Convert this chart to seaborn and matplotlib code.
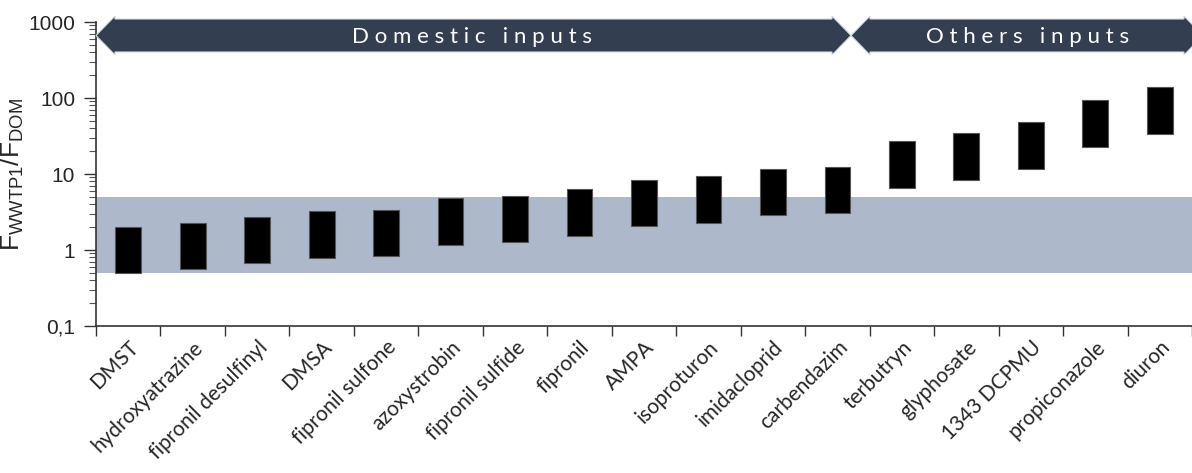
import numpy as np
import pandas as pd
import matplotlib
matplotlib.use("Agg")
import matplotlib.pyplot as plt
import seaborn as sns
from matplotlib.patches import Polygon
import matplotlib.ticker as ticker

# compounds, ordered as in the figure
compounds = ["DMST", "hydroxyatrazine", "fipronil desulfinyl", "DMSA", "fipronil sulfone",
             "azoxystrobin", "fipronil sulfide", "fipronil", "AMPA", "isoproturon",
             "imidacloprid", "carbendazim", "terbutryn", "glyphosate", "1343 DCPMU",
             "propiconazole", "diuron"]
# low / high of each F_WWTP1/F_DOM range
low = [0.50, 0.56, 0.67, 0.79, 0.83, 1.17, 1.26, 1.53, 2.05, 2.29, 2.92, 3.10,
       6.6, 8.4, 11.5, 22.6, 33.6]
high = [2.03, 2.27, 2.74, 3.23, 3.39, 4.79, 5.19, 6.29, 8.41, 9.33, 11.7, 12.5,
        27.2, 34.3, 47.9, 93.3, 138]
band = (0.5, 5)
yticks = [0.1, 1, 10, 100, 1000]
yticklabels = ["0,1", "1", "10", "100", "1000"]

df = pd.DataFrame({"compound": compounds, "low": low, "high": high})
df["span"] = df["high"] - df["low"]

sns.set_style("ticks")
plt.rcParams["font.family"] = ["Lato", "DejaVu Sans"]

W, H = 1192, 473
fig = plt.figure(figsize=(W / 100, H / 100), dpi=100)
ax = fig.add_axes([96 / W, (H - 326) / H, 1 - 96 / W, (326 - 22) / H])

ax.set_yscale("log")
ax.axhspan(*band, color="#ADB9CA", zorder=0, lw=0)

sns.barplot(data=df, x="compound", y="span", order=compounds, bottom=df["low"].values,
            color="black", saturation=1, width=0.4, edgecolor="#555555", linewidth=0.8,
            ax=ax, zorder=2)

ax.set_ylim(0.1, 1000)
ax.set_xlim(-0.5, -0.5 + (W - 96) / 65)
ax.set_yticks(yticks)
ax.set_yticklabels(yticklabels, family=["Liberation Sans"], fontsize=15)
ax.yaxis.set_minor_locator(ticker.LogLocator(base=10, subs=np.arange(2, 10)))
ax.yaxis.set_minor_formatter(ticker.NullFormatter())
ax.tick_params(axis="y", which="major", length=9, width=1, color="#333333", pad=6)
ax.tick_params(axis="y", which="minor", length=5, width=0.8, color="#555555")

# category boundary ticks on x
ax.set_xticks(np.arange(len(compounds)))
ax.set_xticklabels(compounds, rotation=45, ha="right", rotation_mode="anchor",
                   fontsize=15)
ax.tick_params(axis="x", which="major", length=0, pad=8)
ax.set_xticks(np.arange(len(compounds) + 1) - 0.5, minor=True)
ax.tick_params(axis="x", which="minor", length=7, width=1, color="#333333")

ax.set_xlabel("")
ax.set_ylabel(r"$\mathregular{F_{WWTP1}/F_{DOM}}$", fontsize=19, family=["Liberation Sans"],
              labelpad=2)
for s in ["top", "right"]:
    ax.spines[s].set_visible(False)
for s in ["left", "bottom"]:
    ax.spines[s].set_color("#333333")
    ax.spines[s].set_linewidth(1.2)


def px(x, y):
    return (x / W, 1 - y / H)


def double_arrow(x0, x1, yc, body=16.5, head=19.5, hl=19):
    pts = [(x0, yc), (x0 + hl, yc - head), (x0 + hl, yc - body), (x1 - hl, yc - body),
           (x1 - hl, yc - head), (x1, yc), (x1 - hl, yc + head), (x1 - hl, yc + body),
           (x0 + hl, yc + body), (x0 + hl, yc + head)]
    fig.patches.append(Polygon([px(*p) for p in pts], closed=True, transform=fig.transFigure,
                               facecolor="#333F50", edgecolor="#D6DCE5", lw=0.8))


double_arrow(96, 851, 35.5)
double_arrow(851, 1203, 35.5)
fig.text(*px(472, 37), "D o m e s t i c   i n p u t s", color="white", fontsize=16,
         ha="center", va="center")
fig.text(*px(1028, 37), "O t h e r s   i n p u t s", color="white", fontsize=16,
         ha="center", va="center")

fig.savefig("out.png", dpi=100)
